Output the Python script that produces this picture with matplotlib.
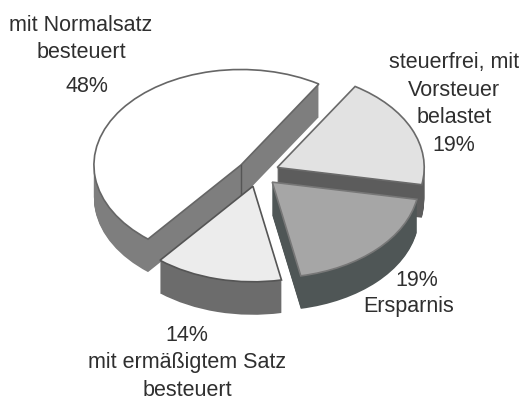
import matplotlib

matplotlib.use("Agg")
import matplotlib.pyplot as plt

values = [19, 19, 14, 48]
explode = [21, 20, 21, 21]
top_colors = ["#e2e2e2", "#a6a6a6", "#ececec", "#ffffff"]
side_colors = ["#5c5c5c", "#4f5656", "#6c6c6c", "#7e7e7e"]
edge_colors = ["#6a6a6a", "#777777", "#555555", "#666666"]
draw_order = [1, 3, 2, 0]

labels = [
    "steuerfrei, mit\nVorsteuer\nbelastet\n19%",
    "19%",
    "Ersparnis",
    "14%\nmit ermäßigtem Satz\nbesteuert",
    "mit Normalsatz\nbesteuert",
    "48%",
]
label_pos = [(454, 104), (417, 281), (409, 307), (187, 363), (81, 39), (87, 87)]

W, H = 521, 402
plt.rcParams["font.family"] = ["Liberation Sans", "DejaVu Sans"]

fig = plt.figure(figsize=(W / 100, H / 100), dpi=100)
ax = fig.add_axes([0, 0, 1, 1])

cx, cy = 258, H - 174
rx = 147
depth = 33
squash = 0.65
start = 58

# side walls: stacked copies of the pie, each slice keeps its own draw order
for d in range(depth, 0, -1):
    wedges, _ = ax.pie(
        values,
        startangle=start,
        counterclock=False,
        explode=explode,
        colors=side_colors,
        radius=rx,
        center=(cx, (cy - d) / squash),
    )
    for w, order in zip(wedges, draw_order):
        w.set_edgecolor("none")
        w.set_zorder(order * 1000 + depth - d)

wedges, _ = ax.pie(
    values,
    startangle=start,
    counterclock=False,
    explode=explode,
    colors=top_colors,
    radius=rx,
    center=(cx, cy / squash),
)
for w, order, edge in zip(wedges, draw_order, edge_colors):
    w.set_edgecolor(edge)
    w.set_linewidth(1.2)
    w.set_zorder(order * 1000 + depth + 1)

# fold line where the two cut faces of the big slice meet
apex_x, apex_y = wedges[3].center
ax.plot([apex_x, apex_x], [apex_y, apex_y - depth / squash], color="#555555", lw=1, zorder=depth + 2)

ax.set_xlim(0, W)
ax.set_ylim(0, H / squash)
ax.set_aspect("auto")
ax.axis("off")

for text, (x, y) in zip(labels, label_pos):
    ax.text(x, (H - y) / squash, text, ha="center", va="center", fontsize=15.5, color="#2f2f2f", linespacing=1.4, zorder=6000)

fig.savefig("out.png", dpi=100)
